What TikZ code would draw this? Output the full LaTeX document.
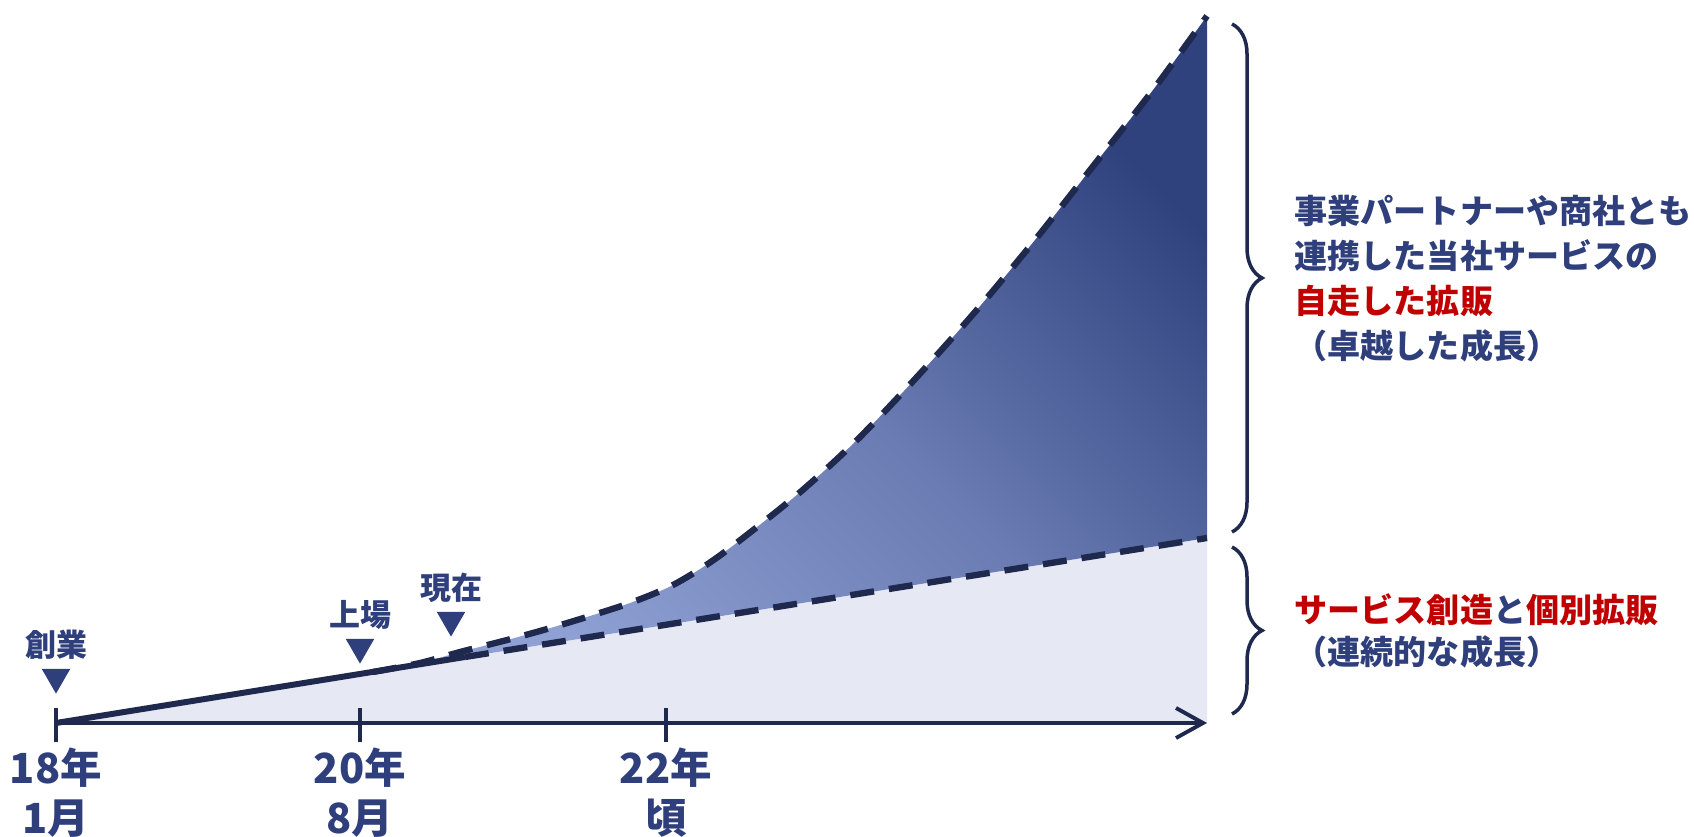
\documentclass[tikz,border=0pt]{standalone}
\usepackage{fontspec}
\newfontfamily\jpfont{Noto Sans CJK JP}
\usepackage{xcolor}
\usetikzlibrary{arrows.meta,positioning,shapes.geometric,decorations.pathreplacing}
\definecolor{navytxt}{RGB}{46,63,124}
\definecolor{navyline}{RGB}{31,40,77}
\definecolor{redtxt}{RGB}{192,0,0}
\definecolor{lavender}{RGB}{230,232,244}
\definecolor{gradlight}{RGB}{143,160,212}
\definecolor{graddark}{RGB}{48,66,126}

\begin{document}
\begin{tikzpicture}[
  x=0.01cm, y=-0.01cm,
  font=\jpfont\bfseries,
  marker/.style={regular polygon, regular polygon sides=3, shape border rotate=180, fill=navytxt, inner sep=0pt, minimum size=0.33cm},
  evt/.style={text=navytxt, inner sep=0pt, font=\jpfont\bfseries\fontsize{8.8}{10}\selectfont},
  yr/.style={text=navytxt, align=center, inner sep=0pt, font=\jpfont\bfseries\fontsize{11.8}{14.2}\selectfont},
  note/.style={text=navytxt, align=left, anchor=west, inner sep=0pt},
  tk/.style={navyline, line width=1.4pt},
  growdash/.style={navyline, line width=1.8pt, dash pattern=on 0.24cm off 0.15cm},
  brc/.style={decorate, decoration={brace, amplitude=0.3cm}, navyline, line width=1pt},
  arr/.style={-{Straight Barb[length=0.27cm, width=0.3cm]}, navyline, line width=1.1pt}
]
  \useasboundingbox (0,0) rectangle (1694,837);

  \coordinate (t18) at (56,723);
  \coordinate (t20) at (360,723);
  \coordinate (t22) at (666,723);
  \coordinate (xend) at (1207,723);
  \coordinate (now) at (465,657);
  \coordinate (lend) at (1207,538);

  \fill[lavender] (t18) -- (lend) -- (xend) -- cycle;
  \shade[left color=gradlight, right color=graddark, middle color=gradlight!62!graddark, shading angle=135]
    plot[smooth] coordinates {(373,672) (420,663) (460,652) (507,640) (547,629) (590,616) (630,603) (667,588) (697,571) (730,548) (798,494) (857,440) (916,378) (975,312) (1035,240) (1094,165) (1153,90) (1207,16)}
    -- (lend) -- cycle;

  \draw[growdash] plot[smooth] coordinates {(373,672) (420,663) (460,652) (507,640) (547,629) (590,616) (630,603) (667,588) (697,571) (730,548) (798,494) (857,440) (916,378) (975,312) (1035,240) (1094,165) (1153,90) (1207,16)};
  \draw[growdash] (now) -- (lend);
  \draw[navyline, line width=1.7pt] (t18) -- (now);

  \draw[arr] (t18) -- (xend);
  \foreach \t in {t18,t20,t22}
    \draw[tk] ([yshift=0.15cm]\t) -- ([yshift=-0.19cm]\t);

  \node[yr] (y18) at (56,793) {18年\\1月};
  \node[yr] (y20) at (360,793) {20年\\8月};
  \node[yr] (y22) at (666,793) {22年\\頃};

  \node[marker, anchor=south] (m1) at (56,695) {};
  \node[marker, anchor=south] (m2) at (360,665) {};
  \node[marker, anchor=south] (m3) at (451,638) {};
  \node[evt, above=0.08cm of m1] (e1) {創業};
  \node[evt, above=0.08cm of m2] (e2) {上場};
  \node[evt, above=0.08cm of m3] (e3) {現在};

  \coordinate (b1t) at (1232,24);
  \coordinate (b1b) at (1232,532);
  \coordinate (b2t) at (1232,547);
  \coordinate (b2b) at (1232,714);
  \draw[brc] (b1t) -- (b1b);
  \draw[brc] (b2t) -- (b2b);

  \node[note, font=\jpfont\bfseries\fontsize{9.4}{12.8}\selectfont] (big) at (1294,279)
    {事業パートナーや商社とも\\連携した当社サービスの\\\textcolor{redtxt}{自走した拡販}\\（卓越した成長）};
  \node[note, font=\jpfont\bfseries\fontsize{9.4}{12}\selectfont] (small) at (1294,631)
    {\textcolor{redtxt}{サービス創造}と\textcolor{redtxt}{個別拡販}\\（連続的な成長）};
\end{tikzpicture}
\end{document}
